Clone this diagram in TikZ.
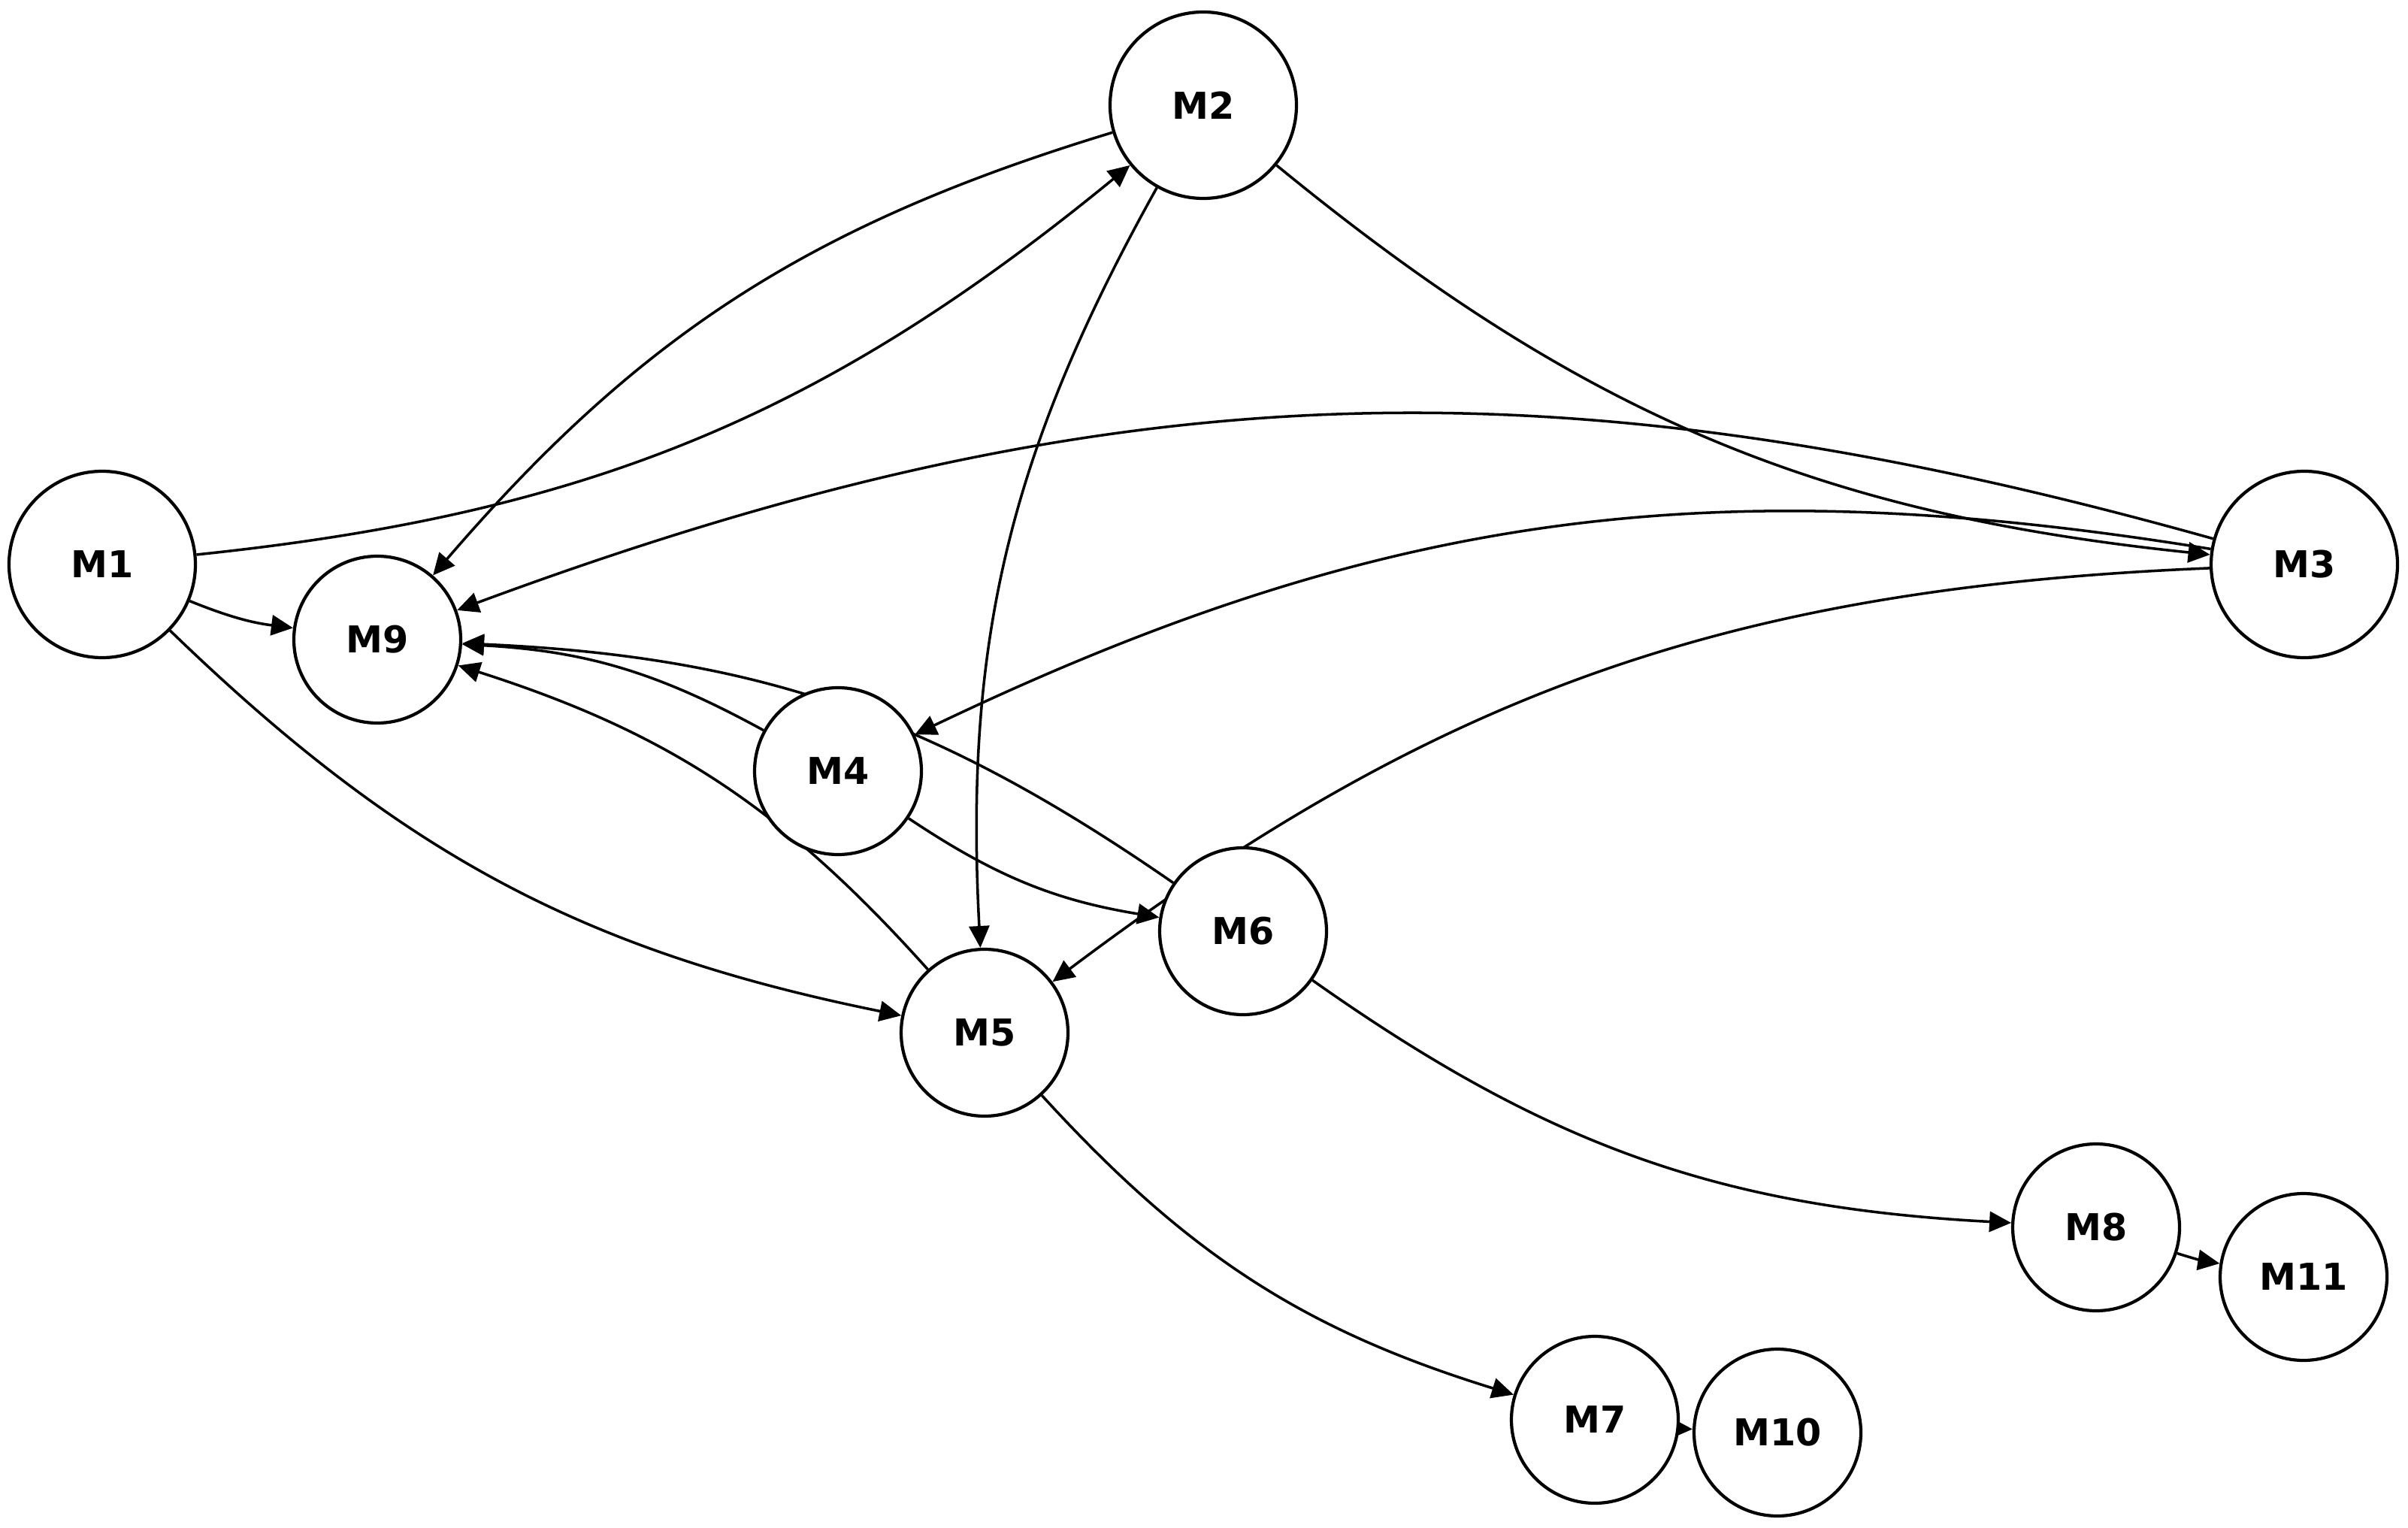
\documentclass[tikz,border=0pt]{standalone}
\usepackage{fontspec}
\setmainfont{DejaVu Sans}
\usetikzlibrary{arrows.meta, backgrounds}

\begin{document}
\begin{tikzpicture}[
  mnode/.style={circle, draw, line width=1.2pt, fill=white, inner sep=0pt,
    minimum size=2.22cm, font=\fontsize{14}{16}\selectfont\bfseries},
  big/.style={minimum size=2.48cm},
  edge/.style={-{Triangle[length=2.9mm, width=2.7mm]}, line width=1pt}
]
\useasboundingbox (0,0) rectangle (32.04,-20.33);

\node[mnode, big] (M1) at (1.36,-7.51) {M1};
\node[mnode, big] (M2) at (16.01,-1.40) {M2};
\node[mnode, big] (M3) at (30.66,-7.51) {M3};
\node[mnode] (M9) at (5.02,-8.51) {M9};
\node[mnode] (M4) at (11.15,-10.26) {M4};
\node[mnode] (M5) at (13.10,-13.74) {M5};
\node[mnode] (M6) at (16.54,-12.39) {M6};
\node[mnode] (M7) at (21.22,-18.89) {M7};
\node[mnode] (M10) at (23.65,-19.06) {M10};
\node[mnode] (M8) at (27.89,-16.33) {M8};
\node[mnode] (M11) at (30.65,-16.99) {M11};

\begin{scope}[on background layer]
\draw[edge] (M1) to[bend right=16.7] (M2);
\draw[edge] (M1) to[bend right=7.4] (M9);
\draw[edge] (M1) to[bend right=16.3] (M5);
\draw[edge] (M2) to[bend right=16.2] (M9);
\draw[edge] (M2) to[bend right=16.1] (M5);
\draw[edge] (M2) to[bend right=16.7] (M3);
\draw[edge] (M3) to[bend right=18.0] (M9);
\draw[edge] (M3) to[bend right=17.4] (M4);
\draw[edge] (M3) to[bend right=17.3] (M5);
\draw[edge] (M4) to[bend right=12.8] (M9);
\draw[edge] (M6) to[bend right=16.1] (M9);
\draw[edge] (M5) to[bend right=15.2] (M9);
\draw[edge] (M4) to[bend right=12.2] (M6);
\draw[edge] (M6) to[bend right=16.1] (M8);
\draw[edge] (M5) to[bend right=15.2] (M7);
\draw[edge] (M8) to[bend right=4.3] (M11);
\draw[edge] (M7) to[bend right=1.7] (M10);
\end{scope}
\end{tikzpicture}
\end{document}
